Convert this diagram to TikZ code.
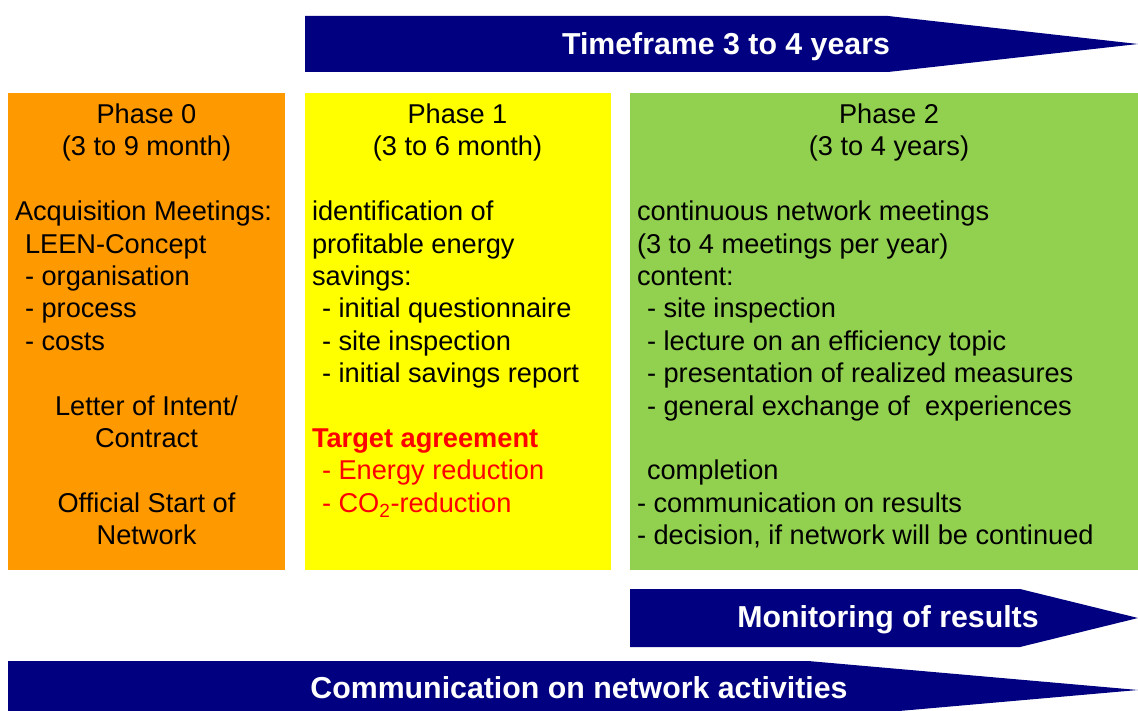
\documentclass[tikz,border=0pt]{standalone}
\usepackage{fontspec}
\setmainfont{Liberation Sans}
\definecolor{arrowblue}{HTML}{000080}
\definecolor{phaseorange}{HTML}{FF9900}
\definecolor{phaseyellow}{HTML}{FFFF00}
\definecolor{phasegreen}{HTML}{92D050}
\definecolor{alertred}{HTML}{FF0000}
\begin{document}
\begin{tikzpicture}[x=1pt,y=-1pt,
  every node/.style={inner sep=0pt, outer sep=0pt},
  banner/.style={fill=arrowblue, draw=none},
  bannertext/.style={text=white, anchor=base, font=\fontsize{30.3}{34}\selectfont\bfseries},
  body/.style={anchor=base west, font=\fontsize{27.2}{32.4}\selectfont},
  bodyc/.style={anchor=base, font=\fontsize{27.2}{32.4}\selectfont},
  alert/.style={body, text=alertred}
]
\useasboundingbox (0,0) rectangle (1138,711);
\clip (0,0) rectangle (1138,711);

% phase panels
\fill[phaseorange] (8,93) rectangle (285,570);
\fill[phaseyellow] (305,93) rectangle (611,570);
\fill[phasegreen] (630,93) rectangle (1140,570);

% banner arrows
\fill[banner] (305,16) -- (888,16) -- (1138,44) -- (888,72) -- (305,72) -- cycle;
\node[bannertext] (timeframe) at (726,54.5) {Timeframe 3 to 4 years};

\fill[banner] (630,589) -- (1020,589) -- (1138,618) -- (1020,647) -- (630,647) -- cycle;
\node[bannertext] (monitoring) at (888,627.5) {Monitoring of results};

\fill[banner] (8,661) -- (808,661) -- (1138,690) -- (808,719) -- (8,719) -- cycle;
\node[bannertext] (communication) at (579,698.5) {Communication on network activities};

% Phase 0
\node[bodyc] (p0a) at (146.5,123.5) {Phase 0};
\node[bodyc] (p0b) at (146.5,155.9) {(3 to 9 month)};
\node[body] (p0c) at (15,220.7) {Acquisition Meetings:};
\node[body] (p0d) at (25,253.1) {LEEN-Concept};
\node[body] (p0e) at (25,285.5) {- organisation};
\node[body] (p0f) at (25,317.9) {- process};
\node[body] (p0g) at (25,350.3) {- costs};
\node[bodyc] (p0h) at (146.5,415.1) {Letter of Intent/};
\node[bodyc] (p0i) at (146.5,447.5) {Contract};
\node[bodyc] (p0j) at (146.5,512.3) {Official Start of};
\node[bodyc] (p0k) at (146.5,544.7) {Network};

% Phase 1
\node[bodyc] (p1a) at (457.5,123.5) {Phase 1};
\node[bodyc] (p1b) at (457.5,155.9) {(3 to 6 month)};
\node[body] (p1c) at (312,220.7) {identification of};
\node[body] (p1d) at (312,253.1) {profitable energy};
\node[body] (p1e) at (312,285.5) {savings:};
\node[body] (p1f) at (322,317.9) {- initial questionnaire};
\node[body] (p1g) at (322,350.3) {- site inspection};
\node[body] (p1h) at (322,382.7) {- initial savings report};
\node[alert, font=\fontsize{27.2}{32.4}\selectfont\bfseries] (p1i) at (312,447.5) {Target agreement};
\node[alert] (p1j) at (322,479.9) {- Energy reduction};
\node[alert] (p1k) at (322,512.3) {- CO\textsubscript{2}-reduction};

% Phase 2
\node[bodyc] (p2a) at (889,123.5) {Phase 2};
\node[bodyc] (p2b) at (889,155.9) {(3 to 4 years)};
\node[body] (p2c) at (637,220.7) {continuous network meetings};
\node[body] (p2d) at (637,253.1) {(3 to 4 meetings per year)};
\node[body] (p2e) at (637,285.5) {content:};
\node[body] (p2f) at (647,317.9) {- site inspection};
\node[body] (p2g) at (647,350.3) {- lecture on an efficiency topic};
\node[body] (p2h) at (647,382.7) {- presentation of realized measures};
\node[body] (p2i) at (647,415.1) {- general exchange of\ \ experiences};
\node[body] (p2j) at (647,479.9) {completion};
\node[body] (p2k) at (637,512.3) {- communication on results};
\node[body] (p2l) at (637,544.7) {- decision, if network will be continued};
\end{tikzpicture}
\end{document}
